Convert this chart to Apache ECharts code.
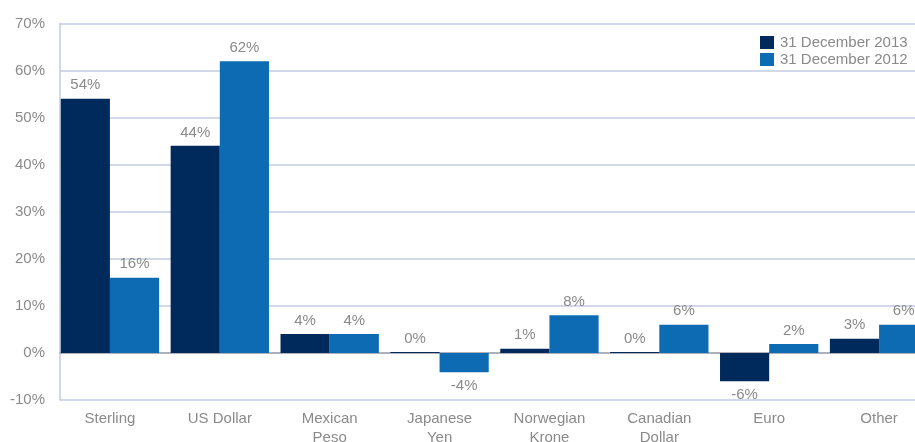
<!DOCTYPE html>
<html>
<head>
<meta charset="utf-8">
<script src="https://cdn.jsdelivr.net/npm/echarts@6/dist/echarts.min.js"></script>
<style>html,body{margin:0;padding:0;background:#fff;overflow:hidden;width:915px;height:442px;}#c{width:940px;height:442px;}</style>
</head>
<body>
<div id="c"></div>
<script>
var categories = ['Sterling', 'US Dollar', 'Mexican\nPeso', 'Japanese\nYen', 'Norwegian\nKrone', 'Canadian\nDollar', 'Euro', 'Other'];
var values2013 = [54, 44, 4, 0.2, 0.9, 0.2, -6, 3];
var values2012 = [16, 62, 4, -4.1, 8, 6, 1.9, 6];
var yTicks = [-10, 0, 10, 20, 30, 40, 50, 60, 70];
var seriesNames = ['31 December 2013', '31 December 2012'];

var FONT = 'Liberation Sans';
var GRAY = '#8a8a8a';
var GRID_COLOR = '#c5cbe0';

function items(arr) {
  return arr.map(function (v) {
    return { value: v, label: { position: v < 0 ? 'bottom' : 'top' } };
  });
}
var lbl = {
  show: true, color: GRAY, fontFamily: FONT, fontSize: 15, distance: 6,
  formatter: function (p) { return Math.round(p.value) + '%'; }
};

var chart = echarts.init(document.getElementById('c'), null, { renderer: 'canvas' });
chart.setOption({
  animation: false,
  textStyle: { fontFamily: FONT },
  legend: {
    orient: 'vertical', left: 760, top: 35, padding: 0, itemWidth: 14, itemHeight: 13, itemGap: 2,
    icon: 'rect', data: seriesNames,
    textStyle: { color: GRAY, fontFamily: FONT, fontSize: 15, padding: [0, 0, 0, 1] }
  },
  grid: [
    { left: 60, width: 874, top: 23.5, bottom: 42, containLabel: false, outerBoundsMode: 'none' },
    { left: 55, width: 879, top: 23.5, bottom: 42, containLabel: false, outerBoundsMode: 'none' }
  ],
  xAxis: [
    { type: 'category', gridIndex: 0, data: categories,
      axisLabel: { show: false }, axisTick: { show: false },
      axisLine: { show: true, onZero: true, lineStyle: { color: '#a3a3ab', width: 1.5 } } },
    { type: 'category', gridIndex: 1, data: categories, position: 'bottom',
      axisLine: { show: false, onZero: false }, axisTick: { show: false },
      axisLabel: { color: GRAY, fontFamily: FONT, fontSize: 15, lineHeight: 19, margin: 9, interval: 0 } }
  ],
  yAxis: [
    { type: 'value', gridIndex: 0, min: yTicks[0], max: yTicks[yTicks.length - 1], interval: 10,
      axisLine: { show: true, lineStyle: { color: GRID_COLOR, width: 1.5 } }, axisTick: { show: false },
      splitLine: { show: true, lineStyle: { color: GRID_COLOR, width: 1.5 } },
      axisLabel: { color: GRAY, fontFamily: FONT, fontSize: 15, margin: 15,
        formatter: function (v) { return v + '%'; } } },
    { type: 'value', gridIndex: 1, min: yTicks[0], max: yTicks[yTicks.length - 1], interval: 10,
      show: false, splitLine: { show: false } }
  ],
  series: [
    { name: seriesNames[0], type: 'bar', xAxisIndex: 1, yAxisIndex: 1, data: items(values2013),
      itemStyle: { color: '#002a5c' }, barGap: '0%', barCategoryGap: '10.5%', label: lbl, z: 3 },
    { name: seriesNames[1], type: 'bar', xAxisIndex: 1, yAxisIndex: 1, data: items(values2012),
      itemStyle: { color: '#0d6bb4' }, barGap: '0%', barCategoryGap: '10.5%', label: lbl, z: 3 }
  ]
});
</script>
</body>
</html>
